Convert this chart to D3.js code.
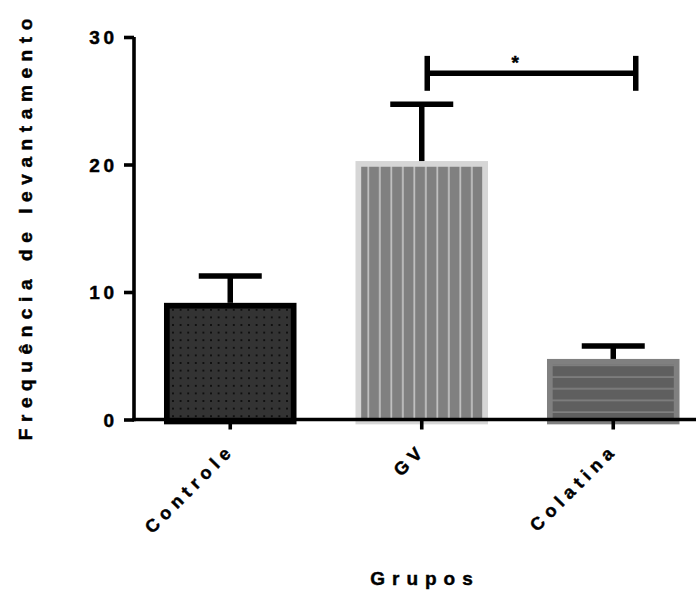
<!DOCTYPE html>
<html>
<head>
<meta charset="utf-8">
<script src="https://cdn.jsdelivr.net/npm/d3@7"></script>
<style>
  html, body { margin: 0; padding: 0; background: #fff; }
  svg text { font-family: "Liberation Sans", Arial, Helvetica, sans-serif; font-weight: bold; fill: #000;
             stroke: #000; stroke-width: 0.45px; }
</style>
</head>
<body>
<svg id="chart" width="696" height="592"></svg>
<script>
// Group names and measured values
const groups = ["Controle", "GV", "Colatina"];
const means = [9.15, 20.27, 4.75];
const upperErr = [11.25, 24.72, 5.76];
const yTicks = [0, 10, 20, 30];
const fills = ["url(#dots)", "url(#vstripes)", "url(#hstripes)"];
const borders = ["#000000", "#d6d6d6", "#808080"];
// Significance bracket between GV and Colatina
const bracket = { from: "GV", to: "Colatina", level: 27.15, half: 1.37, label: "*" };

const svg = d3.select("#chart");
const y = d3.scaleLinear().domain([0, 30]).range([419.5, 37]);
const x = d3.scaleBand().domain(groups).range([134.5, 709]).padding(0);
const barW = x.bandwidth() * 0.692;
const border = 5.7;
const cx = g => x(g) + x.bandwidth() / 2;

// Fill patterns
const defs = svg.append("defs");
const pd = defs.append("pattern").attr("id", "dots").attr("patternUnits", "userSpaceOnUse")
  .attr("width", 7.6).attr("height", 7.6).attr("x", 2).attr("y", 2);
pd.append("rect").attr("width", 7.6).attr("height", 7.6).attr("fill", "#333333");
pd.append("rect").attr("x", 3).attr("y", 3).attr("width", 1.6).attr("height", 1.6).attr("fill", "#000");

const pv = defs.append("pattern").attr("id", "vstripes").attr("patternUnits", "userSpaceOnUse")
  .attr("width", 11.5).attr("height", 10).attr("x", 1.2);
pv.append("rect").attr("width", 11.5).attr("height", 10).attr("fill", "#c4c4c4");
pv.append("rect").attr("x", 0).attr("width", 9.8).attr("height", 10).attr("fill", "#808080");

const ph = defs.append("pattern").attr("id", "hstripes").attr("patternUnits", "userSpaceOnUse")
  .attr("width", 10).attr("height", 11.7).attr("y", 3.5);
ph.append("rect").attr("width", 10).attr("height", 11.7).attr("fill", "#808080");
ph.append("rect").attr("y", 0).attr("width", 10).attr("height", 10).attr("fill", "#5f5f5f");

// Bars (stroke kept inside the outer edge)
svg.append("g").selectAll("rect").data(groups).join("rect")
  .attr("x", (g) => cx(g) - barW / 2 + border / 2)
  .attr("width", barW - border)
  .attr("y", (g, i) => y(means[i]) + border / 2)
  .attr("height", (g, i) => y(0) - y(means[i]) - border / 2 + 2)
  .attr("fill", (g, i) => fills[i])
  .attr("stroke", (g, i) => borders[i])
  .attr("stroke-width", border);

// Error bars (upper only)
const capW = 63;
const eb = svg.append("g").attr("stroke", "#000").attr("stroke-width", 5.5);
eb.selectAll(".stem").data(groups).join("line")
  .attr("x1", cx).attr("x2", cx)
  .attr("y1", (g, i) => y(means[i])).attr("y2", (g, i) => y(upperErr[i]));
eb.selectAll(".cap").data(groups).join("line")
  .attr("x1", g => cx(g) - capW / 2).attr("x2", g => cx(g) + capW / 2)
  .attr("y1", (g, i) => y(upperErr[i])).attr("y2", (g, i) => y(upperErr[i]));

// Axes
const yAxis = d3.axisLeft(y).tickValues(yTicks).tickSize(10).tickPadding(10).tickFormat(d3.format("d"));
const gy = svg.append("g").attr("transform", "translate(134,0)").call(yAxis);
gy.select(".domain").attr("stroke-width", 3.6).attr("d", `M0,${y(30)}V${y(0) + 1.8}`);
gy.selectAll(".tick line").attr("stroke-width", 3.6);
gy.selectAll(".tick text").attr("font-size", 19).attr("letter-spacing", "3.6px")
  .attr("dy", "0.36em").attr("dx", 3.6);

const xAxis = d3.axisBottom(x).tickSize(10).tickFormat("");
const gx = svg.append("g").attr("transform", `translate(0,${y(0)})`).call(xAxis);
gx.select(".domain").attr("stroke-width", 3.6).attr("d", "M132.2,0H696");
gx.selectAll(".tick line").attr("stroke-width", 3.6);

// Rotated category labels
const xls = 5.5;
svg.append("g").selectAll("text").data(groups).join("text")
  .attr("transform", g => `translate(${cx(g) + 1.5},${y(0) + 35.5}) rotate(-45)`)
  .attr("text-anchor", "end")
  .attr("dx", xls)
  .attr("font-size", 18)
  .attr("letter-spacing", xls + "px")
  .text(g => g);

// Axis titles
const yls = 6.6;
svg.append("text")
  .attr("transform", `translate(32,229.5) rotate(-90)`)
  .attr("text-anchor", "middle")
  .attr("dx", yls / 2)
  .attr("font-size", 19)
  .attr("letter-spacing", yls + "px")
  .text("Frequência de levantamento");
const gls = 7;
svg.append("text")
  .attr("x", 421.5).attr("y", 585)
  .attr("text-anchor", "middle")
  .attr("dx", gls / 2)
  .attr("font-size", 19)
  .attr("letter-spacing", gls + "px")
  .text("Grupos");

// Significance bracket
const bx1 = cx(bracket.from) + 5.5, bx2 = cx(bracket.to) + 22.5;
const bg = svg.append("g").attr("stroke", "#000").attr("stroke-width", 5.5);
bg.append("line").attr("x1", bx1).attr("x2", bx2).attr("y1", y(bracket.level)).attr("y2", y(bracket.level));
[bx1, bx2].forEach(bx => bg.append("line").attr("x1", bx).attr("x2", bx)
  .attr("y1", y(bracket.level + bracket.half)).attr("y2", y(bracket.level - bracket.half)));
svg.append("text").attr("x", bx1 + (bx2 - bx1) * 0.422).attr("y", y(bracket.level) - 4)
  .attr("text-anchor", "middle").attr("font-size", 19).text(bracket.label);
</script>
</body>
</html>
